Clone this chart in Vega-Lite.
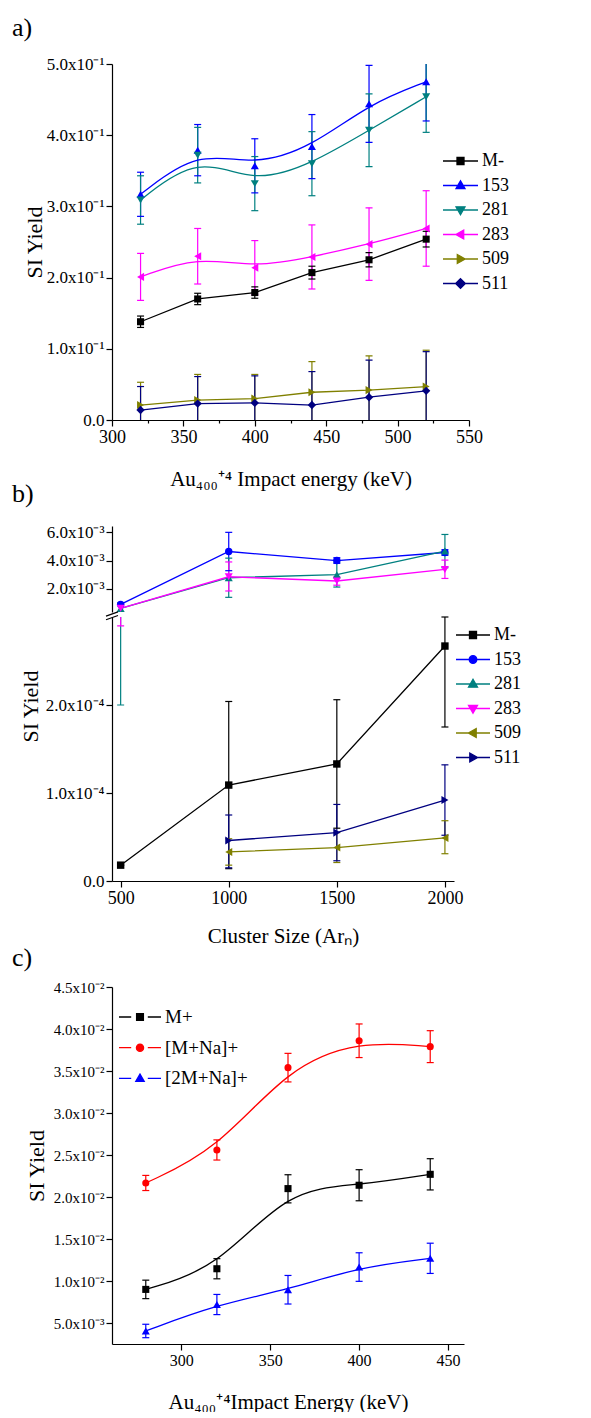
{
  "$schema": "https://vega.github.io/schema/vega-lite/v6.json",
  "padding": {"left": 12, "top": 15, "right": 5, "bottom": 0},
  "bounds": "flush",
  "spacing": 106,
  "resolve": {"scale": {"x": "independent", "y": "independent", "color": "independent", "shape": "independent"}},
  "datasets": {
    "a": [
      {"s": "M-", "x": 320, "y": 0.138, "lo": 0.130, "hi": 0.146},
      {"s": "M-", "x": 360, "y": 0.170, "lo": 0.162, "hi": 0.178},
      {"s": "M-", "x": 400, "y": 0.179, "lo": 0.171, "hi": 0.187},
      {"s": "M-", "x": 440, "y": 0.207, "lo": 0.198, "hi": 0.216},
      {"s": "M-", "x": 480, "y": 0.225, "lo": 0.215, "hi": 0.235},
      {"s": "M-", "x": 520, "y": 0.254, "lo": 0.243, "hi": 0.265},
      {"s": "153", "x": 320, "y": 0.317, "lo": 0.286, "hi": 0.348},
      {"s": "153", "x": 360, "y": 0.379, "lo": 0.343, "hi": 0.415},
      {"s": "153", "x": 400, "y": 0.357, "lo": 0.319, "hi": 0.395},
      {"s": "153", "x": 440, "y": 0.384, "lo": 0.339, "hi": 0.429},
      {"s": "153", "x": 480, "y": 0.444, "lo": 0.390, "hi": 0.498},
      {"s": "153", "x": 520, "y": 0.475, "lo": 0.420, "hi": 0.530},
      {"s": "281", "x": 320, "y": 0.309, "lo": 0.275, "hi": 0.343},
      {"s": "281", "x": 360, "y": 0.372, "lo": 0.333, "hi": 0.411},
      {"s": "281", "x": 400, "y": 0.332, "lo": 0.294, "hi": 0.370},
      {"s": "281", "x": 440, "y": 0.360, "lo": 0.315, "hi": 0.405},
      {"s": "281", "x": 480, "y": 0.407, "lo": 0.356, "hi": 0.458},
      {"s": "281", "x": 520, "y": 0.454, "lo": 0.404, "hi": 0.504},
      {"s": "283", "x": 320, "y": 0.201, "lo": 0.168, "hi": 0.234},
      {"s": "283", "x": 360, "y": 0.230, "lo": 0.191, "hi": 0.269},
      {"s": "283", "x": 400, "y": 0.214, "lo": 0.176, "hi": 0.252},
      {"s": "283", "x": 440, "y": 0.229, "lo": 0.184, "hi": 0.274},
      {"s": "283", "x": 480, "y": 0.247, "lo": 0.196, "hi": 0.298},
      {"s": "283", "x": 520, "y": 0.269, "lo": 0.216, "hi": 0.322},
      {"s": "509", "x": 320, "y": 0.021, "lo": -0.011, "hi": 0.053},
      {"s": "509", "x": 360, "y": 0.028, "lo": -0.008, "hi": 0.064},
      {"s": "509", "x": 400, "y": 0.030, "lo": -0.004, "hi": 0.064},
      {"s": "509", "x": 440, "y": 0.039, "lo": -0.004, "hi": 0.082},
      {"s": "509", "x": 480, "y": 0.042, "lo": -0.006, "hi": 0.090},
      {"s": "509", "x": 520, "y": 0.047, "lo": -0.004, "hi": 0.098},
      {"s": "511", "x": 320, "y": 0.014, "lo": -0.019, "hi": 0.047},
      {"s": "511", "x": 360, "y": 0.023, "lo": -0.015, "hi": 0.061},
      {"s": "511", "x": 400, "y": 0.024, "lo": -0.014, "hi": 0.062},
      {"s": "511", "x": 440, "y": 0.021, "lo": -0.026, "hi": 0.068},
      {"s": "511", "x": 480, "y": 0.032, "lo": -0.020, "hi": 0.084},
      {"s": "511", "x": 520, "y": 0.041, "lo": -0.014, "hi": 0.096}
    ],
    "b": [
      {"s": "M-", "x": 500, "y": 0.000018, "lo": 0.000018, "hi": 0.000018},
      {"s": "M-", "x": 1000, "y": 0.000109, "lo": 0.000014, "hi": 0.000204},
      {"s": "M-", "x": 1500, "y": 0.000133, "lo": 0.000060, "hi": 0.000206},
      {"s": "M-", "x": 2000, "y": 0.000267, "lo": 0.000175, "hi": 0.000359},
      {"s": "153", "x": 500, "y": 0.00089, "lo": 0.00089, "hi": 0.00089},
      {"s": "153", "x": 1000, "y": 0.00464, "lo": 0.00328, "hi": 0.0060},
      {"s": "153", "x": 1500, "y": 0.0040, "lo": 0.0038, "hi": 0.0042},
      {"s": "153", "x": 2000, "y": 0.00457, "lo": 0.00437, "hi": 0.00477},
      {"s": "281", "x": 500, "y": 0.00060, "lo": 0.00020, "hi": 0.0010},
      {"s": "281", "x": 1000, "y": 0.00278, "lo": 0.00139, "hi": 0.00417},
      {"s": "281", "x": 1500, "y": 0.0030, "lo": 0.00212, "hi": 0.00388},
      {"s": "281", "x": 2000, "y": 0.00467, "lo": 0.00349, "hi": 0.00585},
      {"s": "283", "x": 500, "y": 0.00061, "lo": 0.00029, "hi": 0.00093},
      {"s": "283", "x": 1000, "y": 0.00285, "lo": 0.00184, "hi": 0.0039},
      {"s": "283", "x": 1500, "y": 0.00255, "lo": 0.00225, "hi": 0.00285},
      {"s": "283", "x": 2000, "y": 0.00337, "lo": 0.00273, "hi": 0.00403},
      {"s": "509", "x": 1000, "y": 0.000033, "lo": 0.000018, "hi": 0.000048},
      {"s": "509", "x": 1500, "y": 0.000038, "lo": 0.000021, "hi": 0.000055},
      {"s": "509", "x": 2000, "y": 0.000049, "lo": 0.000031, "hi": 0.0000685},
      {"s": "511", "x": 1000, "y": 0.000046, "lo": 0.000015, "hi": 0.000075},
      {"s": "511", "x": 1500, "y": 0.000055, "lo": 0.000023, "hi": 0.000087},
      {"s": "511", "x": 2000, "y": 0.000092, "lo": 0.000052, "hi": 0.000132}
    ],
    "c": [
      {"s": "M+", "x": 280, "y": 0.0090, "lo": 0.0079, "hi": 0.0101},
      {"s": "M+", "x": 320, "y": 0.01146, "lo": 0.01026, "hi": 0.01266},
      {"s": "M+", "x": 360, "y": 0.0210, "lo": 0.0193, "hi": 0.02265},
      {"s": "M+", "x": 400, "y": 0.0214, "lo": 0.01955, "hi": 0.02325},
      {"s": "M+", "x": 440, "y": 0.0227, "lo": 0.02084, "hi": 0.02456},
      {"s": "[M+Na]+", "x": 280, "y": 0.02167, "lo": 0.02077, "hi": 0.02257},
      {"s": "[M+Na]+", "x": 320, "y": 0.0256, "lo": 0.0244, "hi": 0.0268},
      {"s": "[M+Na]+", "x": 360, "y": 0.0354, "lo": 0.0337, "hi": 0.0371},
      {"s": "[M+Na]+", "x": 400, "y": 0.0386, "lo": 0.0366, "hi": 0.0406},
      {"s": "[M+Na]+", "x": 440, "y": 0.0379, "lo": 0.0360, "hi": 0.0398},
      {"s": "[2M+Na]+", "x": 280, "y": 0.00405, "lo": 0.00325, "hi": 0.00485},
      {"s": "[2M+Na]+", "x": 320, "y": 0.0072, "lo": 0.0060, "hi": 0.0084},
      {"s": "[2M+Na]+", "x": 360, "y": 0.00896, "lo": 0.00726, "hi": 0.01066},
      {"s": "[2M+Na]+", "x": 400, "y": 0.01166, "lo": 0.00996, "hi": 0.01336},
      {"s": "[2M+Na]+", "x": 440, "y": 0.0127, "lo": 0.0109, "hi": 0.0145}
    ]
  },
  "vconcat": [
    {
      "width": 357, "height": 356,
      "title": {"text": "a)", "dx": -100, "offset": 14},
      "data": {"name": "a"},
      "encoding": {
        "x": {"field": "x", "type": "quantitative", "scale": {"domain": [300, 550], "nice": false, "zero": false},
              "title": "Au₄₀₀⁺⁴ Impact energy (keV)",
              "axis": {"values": [300, 325, 350, 375, 400, 425, 450, 475, 500, 525, 550],
                       "labelExpr": "datum.value%50==0?datum.label:''",
                       "tickSize": {"condition": {"test": "datum.value%50!=0", "value": 3}, "value": 6},
                       "titlePadding": 22}},
        "color": {"field": "s", "type": "nominal", "scale": {"domain": ["M-", "153", "281", "283", "509", "511"], "range": ["#000000", "#0000ff", "#008080", "#ff00ff", "#808000", "#000080"]},
                  "legend": {"orient": "none", "legendX": 330, "legendY": 86, "title": null, "direction": "vertical", "symbolSize": 400, "labelFontSize": 18, "rowPadding": 4.5, "labelOffset": 18}}
      },
      "layer": [
        {"mark": {"type": "rule", "clip": true, "strokeWidth": 1.2},
         "encoding": {"y": {"field": "lo", "type": "quantitative", "scale": {"domain": [0, 0.5], "nice": false, "zero": false}, "title": "SI Yield",
                            "axis": {"values": [0, 0.05, 0.1, 0.15, 0.2, 0.25, 0.3, 0.35, 0.4, 0.45, 0.5],
                                     "labelExpr": "round(datum.value*20)%2==1?'':(datum.value==0?'0.0':format(datum.value*10,'.1f')+'x10⁻¹')",
                                     "tickSize": {"condition": {"test": "round(datum.value*20)%2==1", "value": 3}, "value": 6},
                                     "labelFontSize": 17, "titleFontSize": 22, "titlePadding": 0}},
                      "y2": {"field": "hi"}}},
        {"mark": {"type": "tick", "orient": "horizontal", "size": 7, "thickness": 1.2, "clip": true, "opacity": 1},
         "encoding": {"y": {"field": "lo", "type": "quantitative", "scale": {"domain": [0, 0.5], "nice": false, "zero": false}, "title": "SI Yield"}}},
        {"mark": {"type": "tick", "orient": "horizontal", "size": 7, "thickness": 1.2, "clip": true, "opacity": 1},
         "encoding": {"y": {"field": "hi", "type": "quantitative", "scale": {"domain": [0, 0.5], "nice": false, "zero": false}, "title": "SI Yield"}}},
        {"transform": [{"filter": {"field": "s", "oneOf": ["M-", "509", "511"]}}],
         "mark": {"type": "line", "strokeWidth": 1.3, "clip": true},
         "encoding": {"y": {"field": "y", "type": "quantitative", "scale": {"domain": [0, 0.5], "nice": false, "zero": false}, "title": "SI Yield"}}},
        {"transform": [{"filter": {"field": "s", "oneOf": ["153", "281", "283"]}}],
         "mark": {"type": "line", "interpolate": "basis", "strokeWidth": 1.3, "clip": true},
         "encoding": {"y": {"field": "y", "type": "quantitative", "scale": {"domain": [0, 0.5], "nice": false, "zero": false}, "title": "SI Yield"}}},
        {"transform": [{"filter": {"field": "s", "equal": "M-"}}],
         "mark": {"type": "point", "shape": "square", "filled": true, "opacity": 1, "size": 50, "clip": true},
         "encoding": {"y": {"field": "y", "type": "quantitative", "scale": {"domain": [0, 0.5], "nice": false, "zero": false}, "title": "SI Yield"}}},
        {"transform": [{"filter": {"field": "s", "equal": "153"}}],
         "mark": {"type": "point", "shape": "triangle-up", "filled": true, "opacity": 1, "size": 65, "clip": true},
         "encoding": {"y": {"field": "y", "type": "quantitative", "scale": {"domain": [0, 0.5], "nice": false, "zero": false}, "title": "SI Yield"}}},
        {"transform": [{"filter": {"field": "s", "equal": "281"}}],
         "mark": {"type": "point", "shape": "triangle-down", "filled": true, "opacity": 1, "size": 65, "clip": true},
         "encoding": {"y": {"field": "y", "type": "quantitative", "scale": {"domain": [0, 0.5], "nice": false, "zero": false}, "title": "SI Yield"}}},
        {"transform": [{"filter": {"field": "s", "equal": "283"}}],
         "mark": {"type": "point", "shape": "triangle-left", "filled": true, "opacity": 1, "size": 65, "clip": true},
         "encoding": {"y": {"field": "y", "type": "quantitative", "scale": {"domain": [0, 0.5], "nice": false, "zero": false}, "title": "SI Yield"}}},
        {"transform": [{"filter": {"field": "s", "equal": "509"}}],
         "mark": {"type": "point", "shape": "triangle-right", "filled": true, "opacity": 1, "size": 65, "clip": true},
         "encoding": {"y": {"field": "y", "type": "quantitative", "scale": {"domain": [0, 0.5], "nice": false, "zero": false}, "title": "SI Yield"}}},
        {"transform": [{"filter": {"field": "s", "equal": "511"}}],
         "mark": {"type": "point", "shape": "diamond", "filled": true, "opacity": 1, "size": 70, "clip": true},
         "encoding": {"y": {"field": "y", "type": "quantitative", "scale": {"domain": [0, 0.5], "nice": false, "zero": false}, "title": "SI Yield"}}},
        {"transform": [{"filter": "false"}],
         "mark": {"type": "point", "filled": true, "opacity": 1},
         "encoding": {"y": {"field": "y", "type": "quantitative", "scale": {"domain": [0, 0.5], "nice": false, "zero": false}, "title": "SI Yield"},
                      "shape": {"field": "s", "type": "nominal",
                                "scale": {"domain": ["M-", "153", "281", "283", "509", "511"],
                                          "range": ["M-1,0H2.5M0.4,-0.35H1.1V0.35H0.4Z", "M-1,0H2.5M0.75,-0.47L1.2,0.32H0.3Z", "M-1,0H2.5M0.75,0.47L1.2,-0.32H0.3Z", "M-1,0H2.5M0.28,0L1.07,-0.45V0.45Z", "M-1,0H2.5M1.22,0L0.43,-0.45V0.45Z", "M-1,0H2.5M0.75,-0.49L1.24,0L0.75,0.49L0.26,0Z"]},
                                "legend": {"orient": "none", "legendX": 330, "legendY": 86, "title": null, "direction": "vertical", "symbolSize": 400, "labelFontSize": 18, "rowPadding": 4.5, "labelOffset": 18}}}}
      ]
    },
    {
      "width": 342, "height": 355,
      "title": {"text": "b)", "dx": -100, "offset": 16},
      "data": {"name": "b"},
      "encoding": {
        "x": {"field": "x", "type": "quantitative", "scale": {"domain": [460, 2042], "nice": false, "zero": false},
              "title": "Cluster Size (Arₙ)",
              "axis": {"values": [500, 1000, 1500, 2000], "format": "d", "tickSize": 6, "titlePadding": 18}},
        "color": {"field": "s", "type": "nominal", "scale": {"domain": ["M-", "153", "281", "283", "509", "511"], "range": ["#000000", "#0000ff", "#008080", "#ff00ff", "#808000", "#000080"]},
                  "legend": {"orient": "none", "legendX": 343, "legendY": 98, "title": null, "direction": "vertical", "symbolSize": 400, "labelFontSize": 18, "rowPadding": 4.5, "labelOffset": 17}}
      },
      "layer": [
        {
          "transform": [{"filter": {"field": "s", "oneOf": ["153", "281", "283"]}}],
          "layer": [
            {"mark": {"type": "rule", "strokeWidth": 1.2},
             "encoding": {"y": {"field": "lo", "type": "quantitative", "scale": {"domain": [0.00035, 0.00645], "range": [86, 0], "clamp": true, "nice": false, "zero": false}, "title": null,
                                "axis": {"orient": "left", "values": [0.002, 0.004, 0.006], "labelExpr": "format(datum.value*1000,'.1f')+'x10⁻³'", "tickSize": 6, "labelFontSize": 17}},
                          "y2": {"field": "hi"}}},
            {"transform": [{"filter": "datum.lo >= 0.00035"}],
             "mark": {"type": "tick", "orient": "horizontal", "size": 7, "thickness": 1.2, "opacity": 1},
             "encoding": {"y": {"field": "lo", "type": "quantitative", "scale": {"domain": [0.00035, 0.00645], "range": [86, 0], "clamp": true, "nice": false, "zero": false}, "title": null}}},
            {"transform": [{"filter": "datum.hi > datum.lo"}],
             "mark": {"type": "tick", "orient": "horizontal", "size": 7, "thickness": 1.2, "opacity": 1},
             "encoding": {"y": {"field": "hi", "type": "quantitative", "scale": {"domain": [0.00035, 0.00645], "range": [86, 0], "clamp": true, "nice": false, "zero": false}, "title": null}}},
            {"mark": {"type": "line", "strokeWidth": 1.3},
             "encoding": {"y": {"field": "y", "type": "quantitative", "scale": {"domain": [0.00035, 0.00645], "range": [86, 0], "clamp": true, "nice": false, "zero": false}, "title": null}}},
            {"transform": [{"filter": {"field": "s", "equal": "153"}}],
             "mark": {"type": "point", "shape": "circle", "filled": true, "opacity": 1, "size": 55},
             "encoding": {"y": {"field": "y", "type": "quantitative", "scale": {"domain": [0.00035, 0.00645], "range": [86, 0], "clamp": true, "nice": false, "zero": false}, "title": null}}},
            {"transform": [{"filter": {"field": "s", "equal": "281"}}],
             "mark": {"type": "point", "shape": "triangle-up", "filled": true, "opacity": 1, "size": 65},
             "encoding": {"y": {"field": "y", "type": "quantitative", "scale": {"domain": [0.00035, 0.00645], "range": [86, 0], "clamp": true, "nice": false, "zero": false}, "title": null}}},
            {"transform": [{"filter": {"field": "s", "equal": "283"}}],
             "mark": {"type": "point", "shape": "triangle-down", "filled": true, "opacity": 1, "size": 65},
             "encoding": {"y": {"field": "y", "type": "quantitative", "scale": {"domain": [0.00035, 0.00645], "range": [86, 0], "clamp": true, "nice": false, "zero": false}, "title": null}}}
          ]
        },
        {
          "layer": [
            {"transform": [{"filter": "datum.lo < 0.0003"}],
             "mark": {"type": "rule", "strokeWidth": 1.2},
             "encoding": {"y": {"field": "lo", "type": "quantitative", "scale": {"domain": [0, 0.0003], "range": [355, 91], "clamp": true, "nice": false, "zero": false}, "title": "SI Yield",
                                "axis": {"orient": "left", "values": [0, 0.0001, 0.0002], "labelExpr": "datum.value==0?'0.0':format(datum.value*10000,'.1f')+'x10⁻⁴'", "tickSize": 6, "labelFontSize": 17, "titleFontSize": 22, "titleY": 180, "titlePadding": 3}},
                          "y2": {"field": "hi"}}},
            {"transform": [{"filter": "datum.lo < 0.0003"}],
             "mark": {"type": "tick", "orient": "horizontal", "size": 7, "thickness": 1.2, "opacity": 1},
             "encoding": {"y": {"field": "lo", "type": "quantitative", "scale": {"domain": [0, 0.0003], "range": [355, 91], "clamp": true, "nice": false, "zero": false}, "title": "SI Yield"}}},
            {"transform": [{"filter": "datum.lo < 0.0003 && datum.hi < 0.0004"}],
             "mark": {"type": "tick", "orient": "horizontal", "size": 7, "thickness": 1.2, "opacity": 1},
             "encoding": {"y": {"field": "hi", "type": "quantitative", "scale": {"domain": [0, 0.0003], "range": [355, 91], "clamp": true, "nice": false, "zero": false}, "title": "SI Yield"}}},
            {"transform": [{"filter": {"field": "s", "oneOf": ["M-", "509", "511"]}}],
             "mark": {"type": "line", "strokeWidth": 1.3},
             "encoding": {"y": {"field": "y", "type": "quantitative", "scale": {"domain": [0, 0.0003], "range": [355, 91], "clamp": true, "nice": false, "zero": false}, "title": "SI Yield"}}},
            {"transform": [{"filter": {"field": "s", "equal": "M-"}}],
             "mark": {"type": "point", "shape": "square", "filled": true, "opacity": 1, "size": 55},
             "encoding": {"y": {"field": "y", "type": "quantitative", "scale": {"domain": [0, 0.0003], "range": [355, 91], "clamp": true, "nice": false, "zero": false}, "title": "SI Yield"}}},
            {"transform": [{"filter": {"field": "s", "equal": "509"}}],
             "mark": {"type": "point", "shape": "triangle-left", "filled": true, "opacity": 1, "size": 65},
             "encoding": {"y": {"field": "y", "type": "quantitative", "scale": {"domain": [0, 0.0003], "range": [355, 91], "clamp": true, "nice": false, "zero": false}, "title": "SI Yield"}}},
            {"transform": [{"filter": {"field": "s", "equal": "511"}}],
             "mark": {"type": "point", "shape": "triangle-right", "filled": true, "opacity": 1, "size": 65},
             "encoding": {"y": {"field": "y", "type": "quantitative", "scale": {"domain": [0, 0.0003], "range": [355, 91], "clamp": true, "nice": false, "zero": false}, "title": "SI Yield"}}},
            {"transform": [{"filter": "false"}],
             "mark": {"type": "point", "filled": true, "opacity": 1},
             "encoding": {"y": {"field": "y", "type": "quantitative", "scale": {"domain": [0, 0.0003], "range": [355, 91], "clamp": true, "nice": false, "zero": false}, "title": "SI Yield"},
                          "shape": {"field": "s", "type": "nominal",
                                    "scale": {"domain": ["M-", "153", "281", "283", "509", "511"],
                                              "range": ["M-1,0H2.4M0.35,-0.35H1.05V0.35H0.35Z", "M-1,0H2.4M1.08,0A0.38,0.38,0,1,1,0.32,0A0.38,0.38,0,1,1,1.08,0Z", "M-1,0H2.4M0.7,-0.47L1.15,0.32H0.25Z", "M-1,0H2.4M0.7,0.47L1.15,-0.32H0.25Z", "M-1,0H2.4M0.23,0L1.02,-0.45V0.45Z", "M-1,0H2.4M1.17,0L0.38,-0.45V0.45Z"]},
                                    "legend": {"orient": "none", "legendX": 343, "legendY": 98, "title": null, "direction": "vertical", "symbolSize": 400, "labelFontSize": 18, "rowPadding": 4.5, "labelOffset": 17}}}},
            {"transform": [{"filter": "datum.s == 'M-' && datum.x == 500"}],
             "mark": {"type": "point", "shape": "M-1,-0.15L1,-0.85M-1,0.45L1,-0.25", "filled": false, "size": 144, "strokeWidth": 1.2, "opacity": 1},
             "encoding": {"x": {"datum": 460, "type": "quantitative"},
                          "y": {"datum": 0.0003, "type": "quantitative"},
                          "color": {"value": "#000000"}}}
          ]
        }
      ],
      "resolve": {"scale": {"y": "independent"}, "axis": {"y": "independent"}}
    },
    {
      "width": 352, "height": 357,
      "title": {"text": "c)", "dx": -100, "offset": 9},
      "data": {"name": "c"},
      "encoding": {
        "x": {"field": "x", "type": "quantitative", "scale": {"domain": [261, 459], "nice": false, "zero": false},
              "title": "Au₄₀₀⁺⁴Impact Energy (keV)",
              "axis": {"values": [300, 350, 400, 450], "tickSize": 6, "labelFontSize": 16, "titlePadding": 23}},
        "color": {"field": "s", "type": "nominal", "scale": {"domain": ["M+", "[M+Na]+", "[2M+Na]+"], "range": ["#000000", "#ff0000", "#0000ff"]},
                  "legend": {"orient": "none", "legendX": 6, "legendY": 19, "title": null, "direction": "vertical", "symbolSize": 400, "labelFontSize": 19, "rowPadding": 9.7, "labelOffset": 25}}
      },
      "layer": [
        {"mark": {"type": "rule", "clip": true, "strokeWidth": 1.2},
         "encoding": {"y": {"field": "lo", "type": "quantitative", "scale": {"domain": [0.0025, 0.045], "nice": false, "zero": false}, "title": "SI Yield",
                            "axis": {"values": [0.005, 0.01, 0.015, 0.02, 0.025, 0.03, 0.035, 0.04, 0.045],
                                     "labelExpr": "datum.value<0.0075?format(datum.value*1000,'.1f')+'x10⁻³':format(datum.value*100,'.1f')+'x10⁻²'",
                                     "tickSize": 6, "labelFontSize": 15, "titleFontSize": 22, "titlePadding": 5}},
                      "y2": {"field": "hi"}}},
        {"mark": {"type": "tick", "orient": "horizontal", "size": 7, "thickness": 1.2, "clip": true, "opacity": 1},
         "encoding": {"y": {"field": "lo", "type": "quantitative", "scale": {"domain": [0.0025, 0.045], "nice": false, "zero": false}, "title": "SI Yield"}}},
        {"mark": {"type": "tick", "orient": "horizontal", "size": 7, "thickness": 1.2, "clip": true, "opacity": 1},
         "encoding": {"y": {"field": "hi", "type": "quantitative", "scale": {"domain": [0.0025, 0.045], "nice": false, "zero": false}, "title": "SI Yield"}}},
        {"mark": {"type": "line", "interpolate": "basis", "strokeWidth": 1.3, "clip": true},
         "encoding": {"y": {"field": "y", "type": "quantitative", "scale": {"domain": [0.0025, 0.045], "nice": false, "zero": false}, "title": "SI Yield"}}},
        {"transform": [{"filter": {"field": "s", "equal": "M+"}}],
         "mark": {"type": "point", "shape": "square", "filled": true, "opacity": 1, "size": 50, "clip": true},
         "encoding": {"y": {"field": "y", "type": "quantitative", "scale": {"domain": [0.0025, 0.045], "nice": false, "zero": false}, "title": "SI Yield"}}},
        {"transform": [{"filter": {"field": "s", "equal": "[M+Na]+"}}],
         "mark": {"type": "point", "shape": "circle", "filled": true, "opacity": 1, "size": 50, "clip": true},
         "encoding": {"y": {"field": "y", "type": "quantitative", "scale": {"domain": [0.0025, 0.045], "nice": false, "zero": false}, "title": "SI Yield"}}},
        {"transform": [{"filter": {"field": "s", "equal": "[2M+Na]+"}}],
         "mark": {"type": "point", "shape": "triangle-up", "filled": true, "opacity": 1, "size": 65, "clip": true},
         "encoding": {"y": {"field": "y", "type": "quantitative", "scale": {"domain": [0.0025, 0.045], "nice": false, "zero": false}, "title": "SI Yield"}}},
        {"transform": [{"filter": "false"}],
         "mark": {"type": "point", "filled": true, "opacity": 1},
         "encoding": {"y": {"field": "y", "type": "quantitative", "scale": {"domain": [0.0025, 0.045], "nice": false, "zero": false}, "title": "SI Yield"},
                      "shape": {"field": "s", "type": "nominal",
                                "scale": {"domain": ["M+", "[M+Na]+", "[2M+Na]+"],
                                          "range": ["M-1,0H0.22M1.88,0H3.2M0.76,-0.34H1.44V0.34H0.76Z", "M-1,0H0.22M1.88,0H3.2M1.46,0A0.36,0.36,0,1,1,0.74,0A0.36,0.36,0,1,1,1.46,0Z", "M-1,0H0.22M1.88,0H3.2M1.1,-0.44L1.52,0.3H0.68Z"]},
                                "legend": {"orient": "none", "legendX": 6, "legendY": 19, "title": null, "direction": "vertical", "symbolSize": 400, "labelFontSize": 19, "rowPadding": 9.7, "labelOffset": 25}}}}
      ]
    }
  ],
  "config": {
    "font": "Liberation Serif, Times New Roman, serif",
    "view": {"stroke": null},
    "axis": {"grid": false, "domainColor": "#000000", "domainWidth": 1.2, "tickColor": "#000000", "tickWidth": 1.2,
             "labelColor": "#000000", "labelFont": "Liberation Serif, Times New Roman, serif", "labelFontSize": 18, "labelPadding": 2,
             "labelFlush": false, "labelOverlap": false, "labelBound": false,
             "titleFont": "Liberation Serif, Times New Roman, serif", "titleFontSize": 21, "titleFontWeight": "normal", "titleColor": "#000000"},
    "legend": {"labelFont": "Liberation Serif, Times New Roman, serif", "labelColor": "#000000", "padding": 0, "offset": 0, "rowPadding": 7, "labelOffset": 3, "symbolStrokeWidth": 1.3},
    "title": {"font": "Liberation Serif, Times New Roman, serif", "fontSize": 26, "fontWeight": "normal", "anchor": "start", "frame": "group", "color": "#000000"}
  }
}
